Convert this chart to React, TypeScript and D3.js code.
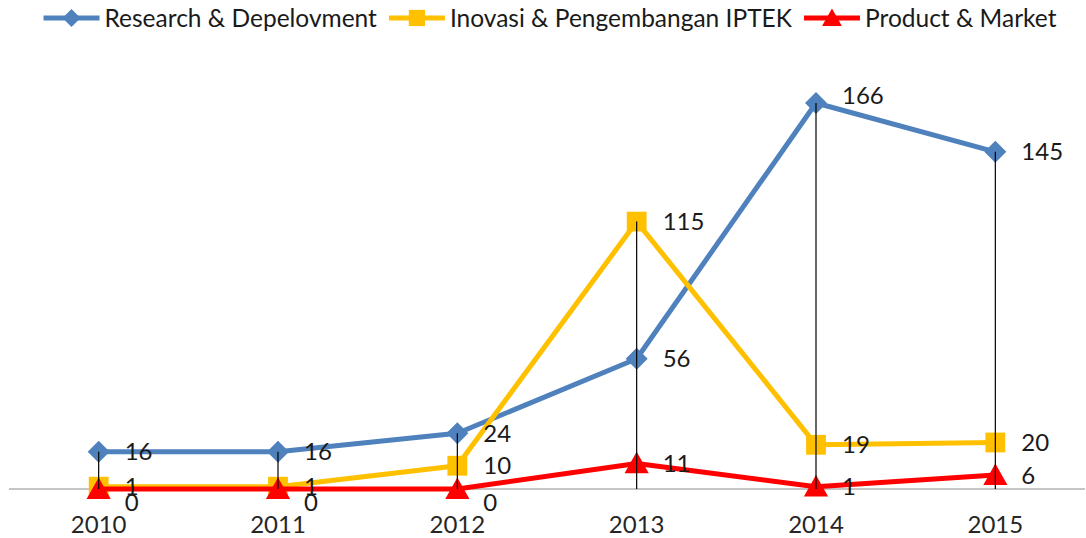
import React, { useEffect, useRef } from 'react';
import * as d3 from 'd3';

const years = ['2010', '2011', '2012', '2013', '2014', '2015'];
const research = [16, 16, 24, 56, 166, 145];
const inovasi = [1, 1, 10, 115, 19, 20];
const product = [0, 0, 0, 11, 1, 6];

const seriesNames = ['Research & Depelovment', 'Inovasi & Pengembangan IPTEK', 'Product & Market'];
const seriesColors = ['#4F81BD', '#FFC000', '#FF0000'];
const seriesShapes = ['diamond', 'square', 'triangle'];

const W = 1086;
const H = 538;
const FONT = 'Lato, "Noto Sans", sans-serif';

const markerPath = (shape: string, s: number) => {
  if (shape === 'diamond') return `M0,${-s}L${s},0L0,${s}L${-s},0Z`;
  if (shape === 'square') return `M${-s * 0.9},${-s * 0.9}H${s * 0.9}V${s * 0.9}H${-s * 0.9}Z`;
  return `M0,${-s * 1.05}L${s * 1.1},${s * 0.9}L${-s * 1.1},${s * 0.9}Z`;
};

const App = () => {
  const svgRef = useRef<SVGSVGElement>(null);

  useEffect(() => {
    const svg = d3.select(svgRef.current);
    svg.selectAll('*').remove();

    const data = [research, inovasi, product];
    const maxAll = d3.max(data.flat()) as number;

    const x = d3.scaleBand().domain(years).range([9, 1085]).padding(0);
    const cx = (yr: string) => (x(yr) as number) + x.bandwidth() / 2;
    const y = d3.scaleLinear().domain([0, 166]).range([489, 103]);

    // axis line
    svg.append('line')
      .attr('x1', 9).attr('x2', 1085)
      .attr('y1', y(0)).attr('y2', y(0))
      .attr('stroke', '#8c8c8c').attr('stroke-width', 1.2);

    // category labels
    svg.append('g').selectAll('text').data(years).enter().append('text')
      .attr('x', d => cx(d))
      .attr('y', 533)
      .attr('text-anchor', 'middle')
      .style('font-family', FONT).style('font-size', '24px').attr('fill', '#262626')
      .text(d => d);

    // series lines + markers
    const line = d3.line<number>()
      .x((_, i) => cx(years[i]))
      .y(d => y(d));

    data.forEach((vals, si) => {
      const g = svg.append('g');
      g.append('path')
        .attr('d', line(vals) as string)
        .attr('fill', 'none')
        .attr('stroke', seriesColors[si])
        .attr('stroke-width', 5)
        .attr('stroke-linejoin', 'round');
      g.selectAll('path.m').data(vals).enter().append('path')
        .attr('class', 'm')
        .attr('transform', (d, i) => `translate(${cx(years[i])},${y(d)})`)
        .attr('d', markerPath(seriesShapes[si], 11))
        .attr('fill', seriesColors[si]);
    });

    // drop lines
    years.forEach((yr, i) => {
      const top = d3.max(data, v => v[i]) as number;
      svg.append('line')
        .attr('x1', cx(yr)).attr('x2', cx(yr))
        .attr('y1', y(top)).attr('y2', y(0))
        .attr('stroke', '#000').attr('stroke-width', 1.2);
    });

    // data labels (zeros pushed below axis, peak lifted off the line like Excel does)
    data.forEach(vals => {
      svg.append('g').selectAll('text').data(vals).enter().append('text')
        .attr('x', (_, i) => cx(years[i]) + 26)
        .attr('y', d => y(d) + (d === 0 ? 13 : d === maxAll ? -8 : 0))
        .attr('dy', '0.36em')
        .style('font-family', FONT).style('font-size', '24px').attr('fill', '#1a1a1a')
        .text(d => d);
    });

    // legend
    const legend = svg.append('g').attr('transform', 'translate(0,18)');
    const items = seriesNames.map((name, si) => {
      const it = legend.append('g');
      it.append('line')
        .attr('x1', 0).attr('x2', 56).attr('y1', 0).attr('y2', 0)
        .attr('stroke', seriesColors[si]).attr('stroke-width', 5);
      it.append('path')
        .attr('transform', 'translate(28,0)')
        .attr('d', markerPath(seriesShapes[si], 9))
        .attr('fill', seriesColors[si]);
      const t = it.append('text')
        .attr('x', 61).attr('dy', '0.36em')
        .style('font-family', FONT).style('font-size', '24.5px').attr('fill', '#1a1a1a')
        .text(name);
      const w = 61 + (t.node() as SVGTextElement).getComputedTextLength();
      return { it, w };
    });
    const gap = 12;
    const total = d3.sum(items, d => d.w) + gap * (items.length - 1);
    let xx = 550 - total / 2;
    items.forEach(d => {
      d.it.attr('transform', `translate(${xx},0)`);
      xx += d.w + gap;
    });
  }, []);

  return (
    <svg
      ref={svgRef}
      width={W}
      height={H}
      style={{ position: 'absolute', left: 0, top: 0, background: '#fff' }}
    />
  );
};

export default App;
